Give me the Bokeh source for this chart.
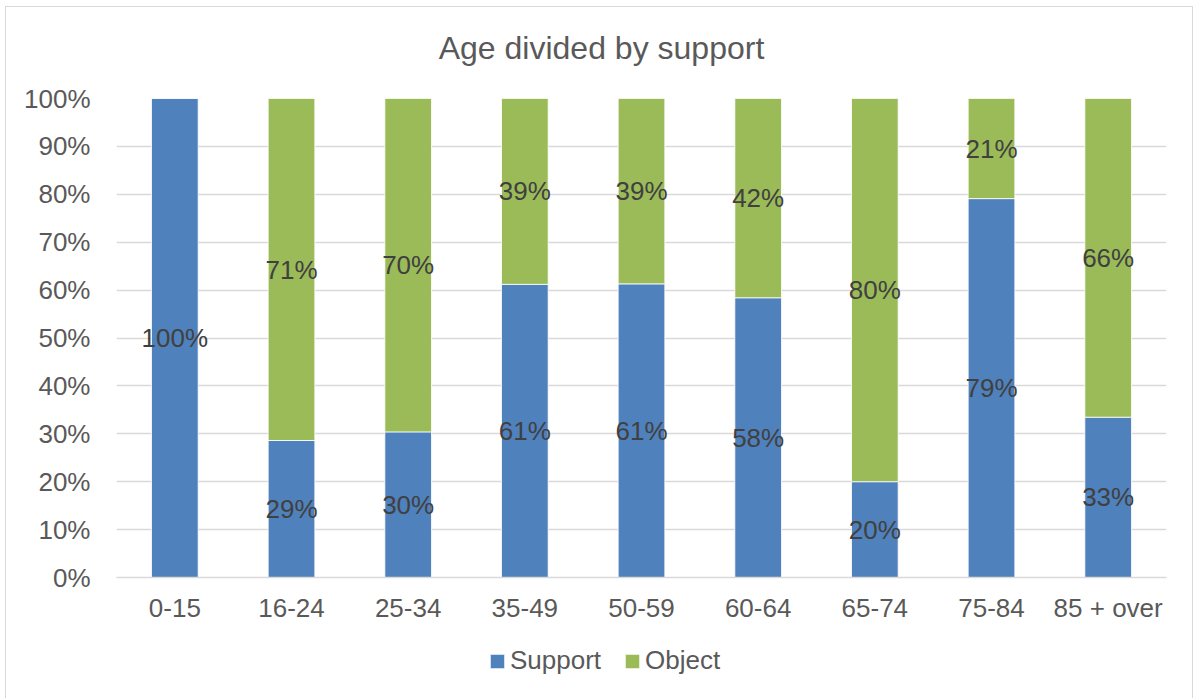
from bokeh.plotting import figure
from bokeh.layouts import column
from bokeh.models import (ColumnDataSource, Range1d, FactorRange, FixedTicker,
                          NumeralTickFormatter, LabelSet, Label, Legend, LegendItem)
from bokeh.core.properties import value
from bokeh.embed import file_html
from bokeh.resources import INLINE

TITLE = "Age divided by support"
categories = ["0-15", "16-24", "25-34", "35-49", "50-59", "60-64", "65-74", "75-84", "85 + over"]
support = [100, 28.6, 30.4, 61.2, 61.3, 58.4, 20.0, 79.1, 33.4]
object_ = [0, 71.4, 69.6, 38.8, 38.7, 41.6, 80.0, 20.9, 66.4]
y_ticks = [0, 0.1, 0.2, 0.3, 0.4, 0.5, 0.6, 0.7, 0.8, 0.9, 1.0]
series = ["Support", "Object"]

BLUE = "#4f81bd"
GREEN = "#9bbb59"
FONT = "Liberation Sans"

totals = [s + o for s, o in zip(support, object_)]
s_share = [s / t for s, t in zip(support, totals)]
o_share = [o / t for o, t in zip(object_, totals)]

src = ColumnDataSource(dict(cat=categories, Support=s_share, Object=o_share))

# ---- title strip ----
tt = figure(x_range=Range1d(0, 1050), y_range=Range1d(0, 71), width=1186, height=71,
            output_backend="svg", toolbar_location=None, x_axis_location=None,
            y_axis_location=None, min_border_left=110, min_border_right=26,
            min_border_top=0, min_border_bottom=0)
tt.outline_line_color = None
tt.grid.grid_line_color = None
tt.add_layout(Label(x=485, y=31, text=TITLE, text_align="center", text_baseline="middle",
                    text_font=FONT, text_font_size="32px", text_color="#595959"))

# ---- main chart ----
p = figure(x_range=FactorRange(*categories, range_padding=0), y_range=Range1d(0, 1),
           frame_width=1050, frame_height=479, output_backend="svg", toolbar_location=None,
           min_border_left=110, min_border_right=26, min_border_top=20, min_border_bottom=55)
p.outline_line_color = None
p.background_fill_color = "white"
p.border_fill_color = "white"

renderers = p.vbar_stack(series, x="cat", width=0.4, source=src,
                         color=[BLUE, GREEN], line_color="white", line_width=0.8)

# data labels
s_mid = [v / 2 for v in s_share]
o_mid = [s + o / 2 for s, o in zip(s_share, o_share)]
lab_cat, lab_y, lab_txt = [], [], []
for c, sv, so, m1, m2 in zip(categories, support, object_, s_mid, o_mid):
    if sv > 0:
        lab_cat.append(c); lab_y.append(m1); lab_txt.append(f"{round(sv)}%")
    if so > 0:
        lab_cat.append(c); lab_y.append(m2); lab_txt.append(f"{round(so)}%")
lsrc = ColumnDataSource(dict(cat=lab_cat, y=lab_y, t=lab_txt))
p.add_layout(LabelSet(x="cat", y="y", text="t", source=lsrc, text_align="center",
                      text_baseline="middle", text_font=value(FONT), text_font_size="26px",
                      text_color="#404040"))

p.yaxis.ticker = FixedTicker(ticks=y_ticks)
p.yaxis.formatter = NumeralTickFormatter(format="0%")
p.yaxis.axis_line_color = None
p.yaxis.major_tick_line_color = None
p.yaxis.minor_tick_line_color = None
p.yaxis.major_label_standoff = 20
p.xaxis.axis_line_color = "#d9d9d9"
p.xaxis.axis_line_width = 1.5
p.xaxis.major_tick_line_color = None
p.xaxis.minor_tick_line_color = None
p.xaxis.major_tick_out = 0
p.xaxis.major_label_standoff = 15
for ax in (p.xaxis, p.yaxis):
    ax.major_label_text_font = FONT
    ax.major_label_text_font_size = "26px"
    ax.major_label_text_color = "#595959"

p.xgrid.grid_line_color = None
p.ygrid.grid_line_color = "#d9d9d9"
p.ygrid.grid_line_width = 1.5
p.ygrid.ticker = FixedTicker(ticks=y_ticks)

# ---- legend strip below the chart (same series, bars kept out of view) ----
lg = figure(x_range=FactorRange(*categories), y_range=Range1d(2, 3), width=1186, height=66,
            output_backend="svg", toolbar_location=None, x_axis_location=None,
            y_axis_location=None, min_border_left=110, min_border_right=26,
            min_border_top=0, min_border_bottom=0)
lg.outline_line_color = None
lg.grid.grid_line_color = None
lg_r = lg.vbar_stack(series, x="cat", width=0.4, source=src,
                     color=[BLUE, GREEN], line_color="white", line_width=0.8)
legend = Legend(items=[LegendItem(label=series[0], renderers=[lg_r[0]]),
                       LegendItem(label=series[1], renderers=[lg_r[1]])],
                orientation="horizontal", location=(372, 22),
                glyph_width=18, glyph_height=18, label_text_font=FONT,
                label_text_font_size="26px", label_text_color="#595959",
                border_line_color=None, background_fill_alpha=0,
                spacing=22, label_standoff=4, padding=0, margin=0)
lg.add_layout(legend, "center")

layout = column(tt, p, lg, spacing=0)
layout.styles = {"border-left": "1px solid #d9d9d9", "border-right": "1px solid #d9d9d9",
                 "border-top": "1px solid #d9d9d9", "margin-left": "5px", "margin-top": "6px"}

open("out.html", "w").write(file_html(layout, INLINE))
